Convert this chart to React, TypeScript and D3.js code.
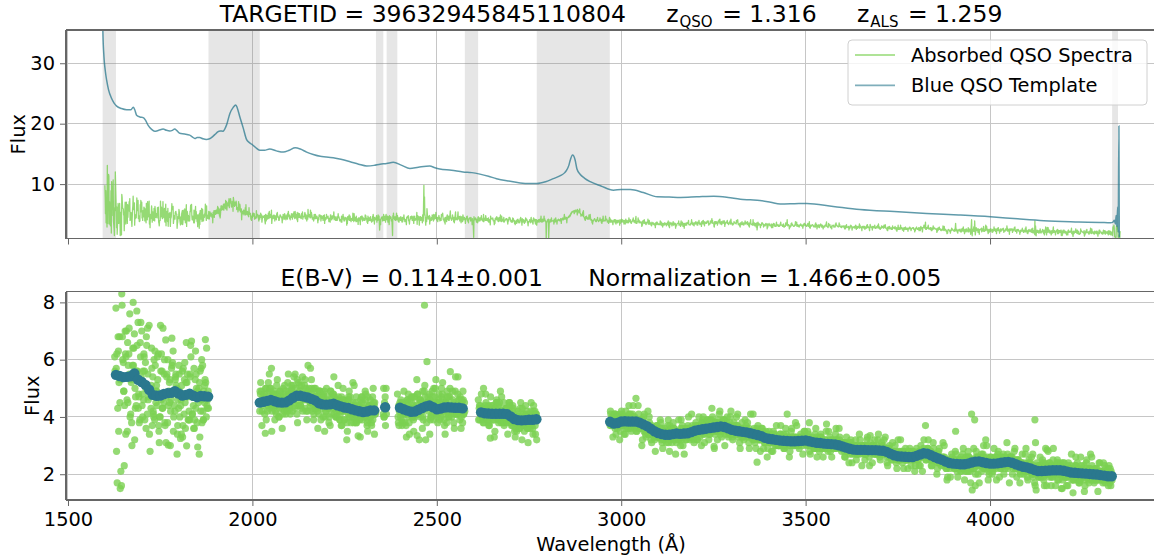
import React, { useEffect, useRef } from 'react';
import * as d3 from 'd3';

// ---------- data ----------

// observed spectrum: five interleaved samplings on a 5 Å grid
const obsStart = 1600;
const obsStep = 5;
const obsOffsets = [0, 5 / 3, 10 / 3, 5 / 6, 5 / 2];

const obsFlux0 = [
  9.8, 4.2, 11.6, 3.1, 7.4, 2.6, 7.8, 4.3, 6.8, 1.6, 5.9, 7.0, 4.6, 6.2, 4.1, 5.8, 6.9, 4.4, 7.3, 3.9, // 1600
  7.0, 4.6, 5.9, 4.1, 7.2, 4.3, 5.4, 3.9, 5.1, 6.2, 4.0, 5.6, 4.5, 6.69, 3.8, 5.2, 4.6, 6.3, 4.2, 5.0, // 1700
  4.3, 3.25, 5.6, 4.1, 5.2, 4.7, 3.9, 6.65, 4.4, 5.3, 3.8, 5.0, 4.2, 5.8, 4.5, 4.0, 4.9, 5.4, 4.6, 5.1, // 1800
  5.0, 5.8, 5.3, 6.4, 5.8, 6.6, 7.1, 6.4, 7.3, 6.6, 7.0, 6.5, 6.1, 5.7, 5.9, 5.1, 5.6, 5.0, 4.6, 5.1, // 1900
  4.5, 5.1, 4.6, 4.9, 4.2, 4.9, 4.5, 3.43, 4.8, 4.3, 5.0, 4.4, 4.7, 4.1, 4.6, 4.9, 4.3, 4.8, 4.5, 4.2, // 2000
  4.9, 4.5, 5.1, 4.3, 4.8, 5.2, 4.4, 4.9, 4.6, 5.0, 4.2, 4.7, 5.3, 4.5, 4.3, 4.7, 4.1, 4.6, 4.4, 4.9, // 2100
  4.2, 4.7, 4.4, 4.1, 4.8, 4.3, 4.0, 4.5, 4.2, 4.6, 3.9, 4.4, 4.1, 4.7, 4.3, 3.8, 4.5, 4.0, 4.4, 4.2, // 2200
  4.5, 4.0, 4.3, 3.9, 4.6, 4.1, 4.4, 4.2, 4.0, 2.4, 4.5, 4.1, 4.7, 4.3, 4.0, 4.6, 1.5, 4.2, 4.5, 4.0, // 2300
  4.5, 3.9, 4.4, 4.1, 4.6, 3.8, 4.3, 4.0, 4.7, 4.4, 4.1, 4.6, 4.2, 9.8, 3.2, 4.5, 4.8, 4.0, 4.4, 4.7, // 2400
  4.1, 4.6, 4.3, 4.8, 3.9, 4.5, 4.2, 4.7, 4.0, 4.4, 4.9, 4.1, 4.6, 4.3, 3.8, 4.5, 4.2, 4.0, 4.4, 4.1, // 2500
  1.2, 4.4, 4.0, 4.3, 4.1, 3.9, 4.3, 4.0, 4.4, 3.26, 4.2, 3.9, 4.3, 4.1, 4.5, 3.8, 4.2, 4.0, 4.3, 3.9, // 2600
  4.1, 3.7, 4.0, 3.8, 4.2, 3.6, 3.9, 4.1, 3.7, 4.0, 3.8, 4.2, 3.6, 3.9, 4.1, 3.8, 4.0, 3.7, 4.1, 3.9, // 2700
  4.0, 3.8, 4.1, 3.9, 3.7, 4.0, 4.2, 3.9, 4.3, 4.5, 4.2, 4.4, 4.8, 5.1, 5.4, 5.7, 5.5, 5.6, 5.1, 4.9, // 2800
  4.5, 4.3, 4.4, 4.2, 4.1, 3.9, 4.0, 4.2, 3.9, 4.1, 3.8, 4.0, 4.1, 3.9, 3.7, 4.0, 3.8, 4.1, 3.6, 3.9, // 2900
  3.9, 3.7, 4.0, 3.8, 3.6, 4.1, 3.9, 3.7, 4.65, 3.8, 3.9, 3.6, 3.8, 3.5, 3.7, 3.4, 3.6, 3.5, 3.3, 3.5, // 3000
  3.5, 3.3, 3.6, 3.2, 3.4, 3.5, 3.2, 3.6, 3.3, 3.4, 3.1, 3.5, 3.3, 3.6, 3.4, 3.2, 3.5, 3.3, 3.6, 3.4, // 3100
  3.6, 3.4, 3.7, 3.5, 3.8, 3.4, 3.6, 3.7, 3.5, 3.9, 3.6, 3.4, 3.7, 3.8, 3.5, 3.7, 3.9, 3.6, 3.5, 3.8, // 3200
  3.6, 3.4, 3.5, 3.7, 3.4, 3.6, 3.3, 3.5, 3.6, 3.3, 3.5, 3.4, 3.2, 3.5, 3.3, 3.4, 3.2, 3.4, 3.1, 3.3, // 3300
  3.3, 3.1, 3.3, 3.2, 3.0, 3.3, 3.1, 3.2, 3.4, 3.0, 4.1, 3.2, 3.0, 3.3, 3.1, 3.2, 3.0, 3.3, 3.2, 3.1, // 3400
  3.3, 3.1, 3.8, 3.0, 3.2, 3.1, 3.3, 2.9, 3.1, 3.2, 3.0, 3.1, 2.9, 3.2, 3.0, 3.1, 2.9, 3.2, 3.0, 2.9, // 3500
  3.0, 2.8, 3.1, 2.9, 2.7, 3.0, 2.8, 2.9, 2.7, 3.0, 2.8, 2.9, 3.0, 2.7, 2.9, 3.35, 2.8, 3.0, 2.7, 2.9, // 3600
  2.9, 2.7, 3.0, 2.8, 2.6, 2.9, 2.7, 2.5, 2.8, 2.6, 2.7, 2.5, 2.8, 2.6, 2.7, 2.5, 2.7, 2.6, 2.8, 2.5, // 3700
  2.7, 2.6, 2.8, 2.7, 2.9, 3.7, 2.7, 2.6, 2.8, 2.5, 2.7, 2.6, 2.4, 2.6, 2.5, 2.3, 2.5, 1.9, 2.4, 2.3, // 3800
  2.4, 2.2, 2.5, 2.3, 2.1, 2.4, 2.2, 2.6, 2.3, 2.4, 4.1, 2.2, 1.6, 2.5, 2.3, 2.6, 2.4, 2.2, 2.5, 1.8, // 3900
  2.5, 2.3, 2.4, 2.2, 2.5, 2.4, 2.2, 2.6, 2.3, 2.4, 2.5, 2.3, 2.6, 2.4, 2.2, 2.3, 2.1, 2.4, 2.2, 2.3, // 4000
  2.3, 2.1, 2.4, 2.0, 2.2, 1.45, 2.3, 2.0, 2.2, 1.9, 2.3, 2.85, 2.0, 2.2, 1.9, 2.3, 2.1, 2.4, 2.0, 2.2, // 4100
  2.0, 2.2, 1.9, 2.1, 2.3, 1.35, 2.1, 1.9, 2.2, 1.8, 2.1, 2.3, 1.9, 2.0, 2.2, 1.8, 2.1, 1.9, 2.2, 2.0, // 4200
  2.1, 1.8, 2.0, 1.9, 2.2, 1.7, 2.0, 2.6, 1.2, 3.0, 1.1, // 4300
];

const obsFlux1 = [
  5.1, 13.1, 3.4, 8.9, 4.8, 6.1, 2.8, 6.3, 1.5, 7.9, 4.9, 3.4, 6.6, 5.5, 5.2, 8.0, 5.0, 7.7, 4.8, 6.1, // 1600
  4.8, 6.1, 3.6, 5.5, 4.9, 6.4, 4.1, 5.8, 4.4, 3.5, 5.6, 4.3, 6.0, 4.7, 3.02, 5.3, 6.75, 4.0, 5.4, 3.4, // 1700
  5.5, 4.6, 3.7, 5.9, 2.99, 4.8, 5.4, 4.1, 5.7, 4.3, 2.95, 5.2, 4.6, 3.9, 5.3, 4.4, 5.5, 4.7, 5.0, 4.5, // 1800
  5.7, 5.1, 5.9, 5.7, 6.7, 6.0, 6.5, 7.6, 6.9, 7.2, 6.3, 6.8, 5.8, 6.4, 5.2, 5.7, 4.9, 5.5, 5.0, 4.5, // 1900
  5.2, 4.6, 4.4, 4.3, 4.8, 4.2, 4.7, 5.0, 4.4, 4.9, 5.7, 4.3, 4.8, 4.5, 4.0, 4.7, 4.6, 4.2, 4.9, 4.6, // 2000
  4.4, 5.0, 4.6, 4.8, 5.3, 4.5, 4.7, 4.2, 5.1, 4.6, 4.9, 4.4, 4.8, 4.1, 4.7, 4.2, 4.6, 4.8, 4.0, 4.5, // 2100
  4.6, 4.3, 4.9, 4.5, 4.1, 4.6, 4.4, 3.9, 4.7, 4.2, 4.5, 3.8, 4.6, 4.2, 4.0, 4.4, 4.7, 3.34, 4.1, 4.5, // 2200
  4.1, 4.6, 3.8, 4.4, 4.2, 3.9, 4.5, 4.8, 4.3, 4.1, 4.6, 4.0, 4.4, 4.2, 4.8, 3.9, 4.3, 4.6, 4.1, 4.4, // 2300
  4.0, 4.5, 4.2, 3.7, 4.4, 4.1, 4.7, 3.9, 4.3, 3.35, 4.6, 4.0, 4.9, 7.9, 4.5, 4.2, 4.6, 4.1, 5.0, 4.3, // 2400
  4.5, 4.2, 4.0, 4.6, 4.4, 3.8, 4.7, 5.58, 4.2, 4.5, 4.1, 4.8, 4.3, 4.0, 4.6, 4.2, 4.5, 4.3, 3.9, 4.3, // 2500
  4.3, 4.1, 4.5, 3.9, 4.2, 5.0, 4.0, 4.3, 3.8, 4.2, 4.4, 4.0, 4.1, 4.4, 3.9, 4.2, 4.5, 4.1, 3.8, 4.2, // 2600
  3.8, 4.2, 3.9, 3.5, 4.0, 3.9, 4.3, 3.7, 4.0, 3.6, 4.1, 3.9, 4.2, 3.7, 3.8, 4.0, 3.8, 4.2, 3.9, 1.0, // 2700
  3.9, 4.1, 3.8, 4.0, 4.2, 3.9, 4.0, 4.1, 4.4, 4.2, 4.5, 4.6, 5.0, 5.3, 5.6, 5.4, 5.8, 5.3, 5.0, 4.7, // 2800
  4.3, 4.5, 4.2, 4.4, 4.0, 4.1, 3.8, 4.0, 4.1, 3.9, 4.2, 3.9, 4.0, 3.8, 4.1, 3.7, 4.0, 3.8, 3.9, 4.1, // 2900
  3.7, 4.0, 3.8, 3.6, 4.1, 3.8, 3.9, 4.0, 3.7, 3.9, 3.6, 3.8, 3.5, 3.7, 3.6, 3.8, 3.4, 3.6, 3.5, 3.3, // 3000
  3.3, 3.6, 3.4, 3.2, 3.5, 3.3, 3.7, 3.4, 3.2, 3.5, 3.4, 3.2, 3.6, 3.3, 3.5, 3.4, 3.6, 3.2, 3.4, 3.6, // 3100
  3.4, 3.7, 3.5, 3.6, 3.4, 3.8, 3.5, 3.6, 3.9, 3.5, 2.97, 3.7, 3.5, 3.6, 3.8, 3.5, 3.7, 3.8, 3.6, 3.4, // 3200
  3.5, 3.7, 3.4, 3.6, 3.5, 3.3, 3.6, 3.4, 3.3, 3.6, 3.4, 3.2, 3.5, 3.3, 3.5, 3.2, 3.4, 3.3, 3.2, 3.4, // 3300
  3.2, 3.4, 3.1, 3.0, 3.3, 3.2, 3.4, 3.1, 3.0, 3.3, 3.1, 3.0, 3.3, 3.1, 3.3, 3.0, 3.2, 3.4, 3.1, 3.3, // 3400
  3.1, 3.3, 3.0, 3.2, 3.1, 2.9, 3.2, 3.0, 3.3, 3.1, 2.9, 3.75, 3.1, 3.0, 3.2, 2.9, 3.1, 3.0, 3.2, 3.0, // 3500
  2.9, 3.1, 2.8, 3.0, 2.9, 2.7, 3.0, 2.8, 3.0, 2.7, 2.9, 2.8, 2.7, 3.0, 2.8, 2.9, 3.0, 2.8, 2.9, 2.7, // 3600
  2.8, 3.0, 2.7, 2.9, 2.8, 2.6, 2.8, 2.7, 2.6, 2.8, 2.5, 2.7, 2.6, 2.8, 2.5, 2.7, 2.6, 2.5, 2.7, 2.6, // 3700
  2.6, 2.8, 2.7, 2.1, 2.8, 2.6, 2.9, 2.7, 2.5, 2.7, 2.6, 2.4, 2.6, 2.5, 2.4, 2.6, 2.3, 2.5, 2.4, 2.5, // 3800
  2.3, 3.5, 2.2, 2.4, 2.6, 2.2, 2.5, 2.3, 2.1, 2.5, 1.45, 2.4, 2.6, 2.3, 2.5, 2.7, 2.2, 2.4, 2.3, 2.5, // 3900
  2.2, 2.5, 2.3, 2.6, 2.3, 2.2, 2.5, 2.4, 2.6, 2.3, 2.4, 2.6, 2.3, 2.5, 2.4, 2.5, 2.3, 2.2, 2.4, 2.1, // 4000
  2.1, 2.4, 2.2, 1.9, 3.9, 2.2, 1.9, 2.3, 2.1, 2.4, 2.0, 2.2, 2.4, 1.9, 2.9, 2.1, 2.3, 2.0, 2.3, 1.9, // 4100
  2.2, 1.9, 2.3, 2.0, 1.8, 2.2, 2.0, 2.4, 1.9, 2.1, 2.0, 1.8, 2.2, 2.1, 1.9, 2.3, 1.8, 2.0, 2.1, 1.8, // 4200
  1.9, 2.1, 1.8, 2.1, 1.9, 2.0, 1.5, 2.8, 1.4, 2.4, 1.0, // 4300
];

const obsFlux2 = [
  3.6, 8.2, 5.5, 10.4, 3.9, 12.0, 1.7, 5.2, 2.1, 6.0, 4.4, 7.0, 5.8, 4.0, 3.0, 6.4, 4.7, 5.6, 3.8, 5.4, // 1600
  5.6, 3.9, 6.5, 4.7, 5.0, 3.7, 6.0, 4.5, 5.3, 4.0, 6.2, 4.8, 3.7, 5.5, 4.9, 4.2, 5.9, 4.4, 5.1, 4.6, // 1700
  4.0, 5.1, 4.8, 3.6, 5.5, 4.2, 6.1, 4.7, 3.9, 5.0, 4.5, 5.6, 3.8, 4.9, 5.2, 4.6, 4.3, 5.2, 5.3, 5.6, // 1800
  5.3, 5.6, 4.9, 6.1, 6.3, 5.9, 6.9, 6.7, 6.2, 7.8, 6.8, 5.9, 6.5, 5.9, 5.5, 5.3, 5.2, 4.8, 5.2, 4.7, // 1900
  4.7, 4.3, 5.0, 4.8, 4.5, 4.7, 4.1, 4.6, 5.2, 4.5, 4.2, 4.9, 4.4, 4.8, 4.3, 4.5, 5.0, 4.4, 4.3, 4.8, // 2000
  4.7, 4.2, 4.8, 5.0, 4.4, 4.9, 5.1, 4.6, 4.3, 4.8, 5.0, 4.5, 4.3, 4.9, 4.6, 4.4, 4.9, 4.3, 4.7, 4.2, // 2100
  4.4, 4.0, 4.5, 4.8, 4.3, 4.2, 4.7, 4.1, 4.3, 3.9, 4.4, 4.6, 4.0, 4.3, 4.5, 4.1, 3.9, 4.3, 4.6, 3.9, // 2200
  4.3, 4.2, 4.7, 4.0, 3.7, 4.5, 4.1, 4.4, 4.7, 4.2, 3.9, 4.5, 4.1, 4.6, 4.3, 4.1, 4.5, 4.0, 4.8, 4.2, // 2300
  4.3, 4.1, 3.8, 4.5, 4.0, 4.6, 4.0, 4.4, 4.1, 4.8, 4.3, 4.5, 3.9, 4.7, 5.93, 4.4, 4.0, 4.7, 4.3, 4.5, // 2400
  4.4, 3.9, 4.7, 4.2, 4.5, 4.9, 4.0, 4.3, 4.6, 4.1, 4.4, 4.2, 4.7, 4.5, 4.1, 4.3, 3.9, 4.4, 4.2, 4.0, // 2500
  4.1, 4.2, 3.9, 4.4, 4.0, 4.2, 4.5, 3.9, 4.1, 4.3, 3.9, 4.3, 4.5, 3.9, 4.2, 4.0, 3.8, 4.3, 4.1, 4.4, // 2600
  4.0, 3.9, 3.6, 4.1, 3.8, 4.0, 3.7, 3.9, 4.2, 3.8, 3.6, 4.0, 3.9, 4.1, 3.7, 4.1, 3.9, 3.8, 4.0, 3.7, // 2700
  1.1, 4.0, 3.9, 4.2, 3.8, 4.1, 3.9, 4.2, 4.1, 4.4, 4.3, 4.7, 5.2, 5.5, 5.3, 5.7, 5.5, 5.2, 4.8, 4.6, // 2800
  4.6, 4.2, 4.3, 4.0, 3.9, 4.2, 4.1, 3.8, 4.0, 4.2, 3.9, 4.1, 3.9, 4.5, 3.8, 3.9, 3.6, 4.0, 3.7, 3.8, // 2900
  4.1, 3.8, 3.6, 3.9, 3.8, 3.7, 4.0, 3.9, 3.8, 3.6, 3.7, 3.9, 3.7, 3.6, 3.4, 3.6, 3.7, 3.3, 3.6, 3.4, // 3000
  3.4, 3.2, 3.5, 3.6, 3.3, 3.1, 3.4, 3.5, 3.6, 3.2, 3.5, 3.4, 3.2, 3.5, 3.3, 3.6, 3.3, 3.5, 3.3, 3.5, // 3100
  3.5, 3.6, 3.3, 3.8, 3.6, 3.5, 3.9, 3.4, 3.7, 3.6, 3.8, 3.5, 3.9, 3.4, 3.7, 3.9, 3.6, 3.5, 3.7, 3.6, // 3200
  3.4, 3.6, 3.7, 3.4, 3.6, 3.5, 3.4, 3.7, 3.4, 3.5, 3.3, 3.5, 3.4, 2.42, 3.4, 3.3, 3.5, 3.1, 3.4, 3.2, // 3300
  3.1, 3.2, 3.4, 3.1, 3.2, 3.0, 3.2, 3.3, 3.1, 3.2, 3.3, 3.1, 3.2, 3.0, 3.2, 3.3, 3.1, 3.1, 3.3, 3.2, // 3400
  3.2, 3.0, 3.2, 3.3, 2.9, 3.2, 3.0, 3.2, 2.9, 3.0, 3.2, 3.0, 3.1, 2.9, 3.1, 3.0, 3.2, 2.9, 3.0, 3.1, // 3500
  3.1, 2.9, 2.9, 2.8, 3.1, 2.9, 2.7, 3.0, 2.8, 2.9, 3.0, 2.7, 2.9, 2.8, 2.3, 2.8, 2.9, 2.7, 3.0, 2.8, // 3600
  2.7, 2.8, 2.9, 2.7, 2.9, 2.7, 2.6, 2.8, 2.7, 2.5, 2.8, 2.6, 2.7, 2.5, 2.7, 2.6, 2.8, 2.7, 2.5, 2.7, // 3700
  2.5, 2.7, 2.6, 2.8, 2.7, 2.8, 2.6, 2.8, 2.7, 2.6, 2.5, 2.7, 2.5, 2.4, 2.6, 2.5, 1.8, 2.4, 2.3, 2.4, // 3800
  2.5, 2.3, 2.4, 2.2, 2.5, 2.3, 2.1, 2.4, 2.6, 2.2, 2.5, 3.9, 2.3, 2.6, 2.4, 2.3, 2.6, 3.2, 2.4, 2.2, // 3900
  2.4, 2.2, 2.6, 2.4, 2.3, 2.6, 2.4, 2.3, 2.5, 2.2, 2.6, 2.4, 2.5, 2.2, 2.5, 2.2, 2.4, 2.3, 2.1, 2.3, // 4000
  2.4, 2.2, 2.0, 2.3, 3.1, 2.0, 2.3, 1.9, 2.4, 2.1, 1.6, 2.3, 2.1, 2.3, 2.0, 2.2, 1.8, 2.3, 1.5, 2.4, // 4100
  1.9, 2.1, 2.0, 2.2, 2.0, 1.9, 2.3, 2.0, 1.8, 2.2, 1.9, 2.1, 2.0, 1.7, 2.1, 2.0, 2.2, 1.8, 1.9, 2.1, // 4200
  2.0, 1.9, 2.2, 1.8, 2.0, 2.1, 2.9, 1.3, 3.1, 1.6, 2.2, // 4300
];

const obsFlux3 = [
  8.0, 2.9, 11.3, 5.6, 9.2, 1.5, 5.7, 6.8, 4.5, 8.3, 4.9, 6.2, 3.5, 7.1, 5.3, 6.4, 3.2, 5.6, 4.3, 6.6, // 1600
  4.4, 6.2, 5.0, 7.1, 3.4, 5.1, 4.2, 6.3, 4.9, 3.7, 7.2, 4.3, 5.5, 3.1, 6.0, 4.5, 5.7, 3.5, 5.3, 2.7, // 1700
  5.8, 4.4, 3.3, 5.3, 6.6, 3.9, 5.5, 4.7, 3.6, 6.3, 4.9, 2.7, 5.7, 4.2, 5.1, 6.4, 4.3, 4.9, 4.5, 5.6, // 1800
  5.3, 6.3, 4.7, 6.4, 5.9, 6.8, 5.7, 7.2, 7.6, 6.3, 6.9, 7.2, 5.4, 6.7, 4.1, 5.7, 6.1, 5.2, 6.1, 4.2, // 1900
  5.1, 4.2, 5.6, 4.7, 4.9, 3.7, 4.6, 5.0, 4.2, 5.5, 4.4, 4.8, 3.9, 5.1, 4.5, 4.9, 3.6, 4.7, 4.1, 5.2, // 2000
  4.3, 5.1, 4.6, 5.5, 4.1, 4.8, 4.4, 5.4, 4.7, 4.2, 5.8, 4.5, 5.0, 3.9, 5.0, 4.3, 4.9, 3.9, 4.7, 3.5, // 2100
  5.0, 4.3, 3.7, 4.7, 5.4, 4.0, 4.6, 4.2, 3.7, 5.0, 4.3, 3.2, 4.7, 4.0, 4.4, 5.1, 3.8, 4.3, 3.9, 4.7, // 2200
  4.1, 4.9, 3.7, 4.4, 4.0, 4.7, 3.4, 4.5, 4.9, 3.9, 4.3, 5.0, 3.7, 4.7, 3.3, 4.5, 4.8, 4.1, 5.2, 3.8, // 2300
  4.4, 3.7, 4.9, 4.1, 4.6, 3.4, 4.3, 4.7, 4.0, 5.3, 4.1, 4.6, 3.6, 4.9, 4.3, 4.7, 3.4, 4.5, 3.9, 5.0, // 2400
  4.0, 4.8, 4.2, 5.2, 3.7, 4.5, 4.1, 5.0, 4.4, 3.8, 5.4, 4.1, 4.6, 3.6, 4.9, 4.2, 4.6, 3.6, 4.4, 3.3, // 2500
  4.6, 4.1, 3.6, 4.4, 4.8, 3.8, 4.4, 4.1, 3.7, 4.7, 4.2, 3.3, 4.5, 3.9, 4.3, 4.7, 3.8, 4.1, 3.9, 4.5, // 2600
  3.8, 4.4, 3.5, 4.0, 3.7, 4.3, 3.2, 4.1, 4.4, 3.6, 3.9, 4.5, 3.4, 4.2, 3.2, 4.1, 4.3, 3.8, 4.7, 3.6, // 2700
  4.1, 3.6, 4.4, 3.9, 4.2, 3.4, 4.0, 4.3, 4.1, 5.0, 4.2, 4.5, 4.6, 5.4, 5.5, 5.7, 4.9, 5.6, 4.7, 5.4, // 2800
  4.2, 4.7, 4.3, 5.0, 3.6, 4.1, 3.8, 4.5, 4.0, 3.7, 4.7, 3.9, 4.2, 3.5, 4.2, 3.7, 4.1, 3.4, 4.0, 3.2, // 2900
  4.2, 3.7, 3.4, 4.0, 4.4, 3.6, 4.1, 3.8, 3.5, 4.4, 3.8, 3.0, 4.0, 3.4, 3.7, 4.0, 3.2, 3.4, 3.2, 3.7, // 3000
  3.3, 3.9, 3.1, 3.5, 3.3, 3.7, 2.8, 3.6, 3.8, 3.2, 3.4, 3.9, 3.0, 3.7, 2.7, 3.6, 3.7, 3.3, 4.1, 3.2, // 3100
  3.7, 3.2, 4.0, 3.5, 3.9, 3.1, 3.7, 3.9, 3.4, 4.3, 3.5, 3.8, 3.2, 4.1, 3.6, 3.9, 3.0, 3.7, 3.3, 4.0, // 3200
  3.3, 3.8, 3.5, 4.1, 3.1, 3.6, 3.3, 3.9, 3.5, 3.1, 4.1, 3.3, 3.6, 2.9, 3.7, 3.2, 3.6, 2.9, 3.4, 2.6, // 3300
  3.5, 3.1, 2.8, 3.4, 3.7, 3.0, 3.4, 3.2, 2.9, 3.6, 3.3, 2.6, 3.5, 3.1, 3.3, 3.7, 3.0, 3.2, 3.0, 3.5, // 3400
  3.1, 3.5, 2.8, 3.2, 3.0, 3.4, 2.6, 3.3, 3.4, 2.9, 3.1, 3.5, 2.8, 3.3, 2.6, 3.2, 3.4, 3.0, 3.6, 2.9, // 3500
  3.0, 2.6, 3.3, 2.8, 3.1, 2.4, 2.9, 3.2, 2.7, 3.4, 2.8, 3.0, 2.5, 3.2, 2.9, 3.1, 2.4, 3.0, 2.7, 3.2, // 3600
  2.6, 3.1, 2.8, 3.3, 2.4, 2.9, 2.6, 3.1, 2.7, 2.4, 3.2, 2.5, 2.8, 2.2, 2.9, 2.5, 2.8, 2.3, 2.7, 2.1, // 3700
  2.9, 2.5, 2.3, 2.8, 3.2, 2.5, 2.9, 2.7, 2.3, 3.1, 2.7, 2.0, 2.8, 2.4, 2.6, 3.0, 2.2, 2.4, 2.2, 2.7, // 3800
  2.3, 2.8, 2.1, 2.5, 2.2, 2.7, 1.8, 2.6, 2.8, 2.1, 2.4, 2.9, 2.0, 2.6, 1.7, 2.5, 2.7, 2.3, 3.0, 2.1, // 3900
  2.6, 2.0, 2.9, 2.3, 2.7, 1.9, 2.5, 2.7, 2.2, 3.1, 2.3, 2.6, 2.0, 2.8, 2.3, 2.5, 1.7, 2.4, 2.0, 2.7, // 4000
  1.9, 2.5, 2.1, 2.7, 1.7, 2.2, 2.0, 2.6, 2.2, 1.8, 2.9, 2.0, 2.4, 1.6, 2.5, 2.1, 2.4, 1.8, 2.3, 1.5, // 4100
  2.4, 1.9, 1.6, 2.2, 2.7, 1.8, 2.3, 2.0, 1.7, 2.6, 2.1, 1.4, 2.4, 1.9, 2.2, 2.6, 1.8, 2.1, 1.8, 2.4, // 4200
  2.1, 1.7, 2.3, 1.9, 1.6, 2.2, 1.8, 3.2, 1.0, 2.5, 1.5, // 4300
];

const obsFlux4 = [
  8.9, 3.5, 7.1, 1.9, 10.7, 5.6, 6.2, 3.5, 5.3, 6.8, 2.3, 6.1, 4.5, 7.6, 3.8, 5.8, 4.3, 6.5, 4.7, 7.3, // 1600
  4.0, 5.6, 6.8, 4.6, 2.8, 5.7, 4.0, 4.9, 6.1, 3.1, 4.6, 7.1, 3.8, 5.4, 4.4, 3.0, 5.8, 4.8, 5.5, 3.7, // 1700
  4.9, 3.4, 5.7, 4.5, 5.2, 3.9, 6.5, 4.1, 3.6, 5.5, 4.7, 3.3, 6.0, 3.9, 6.7, 4.3, 4.2, 5.1, 3.6, 5.5, // 1800
  5.1, 6.1, 4.4, 6.4, 5.7, 7.3, 6.7, 6.1, 7.2, 5.5, 7.0, 5.8, 7.1, 5.4, 5.5, 4.9, 6.6, 5.2, 5.3, 4.0, // 1900
  5.2, 4.3, 4.9, 3.9, 5.2, 4.4, 4.8, 3.9, 4.5, 5.0, 3.5, 4.8, 4.2, 5.3, 4.0, 4.7, 4.1, 5.1, 4.3, 5.5, // 2000
  4.1, 4.9, 5.4, 4.4, 3.8, 5.1, 4.3, 4.7, 5.3, 3.9, 4.6, 5.7, 4.2, 5.0, 4.3, 3.6, 4.9, 4.5, 4.8, 4.0, // 2100
  4.5, 3.8, 4.9, 4.3, 4.7, 4.0, 5.1, 3.9, 3.7, 4.6, 4.2, 3.5, 4.9, 3.8, 5.2, 4.0, 3.8, 4.4, 3.3, 4.7, // 2200
  4.0, 4.8, 3.5, 4.4, 3.8, 5.0, 4.1, 3.7, 4.6, 3.3, 4.5, 4.0, 5.0, 3.7, 4.3, 3.9, 5.2, 4.1, 4.7, 3.7, // 2300
  4.6, 3.8, 4.3, 3.3, 4.8, 4.1, 4.5, 3.5, 4.3, 4.8, 3.2, 4.5, 4.0, 5.1, 3.8, 4.5, 3.9, 4.9, 4.1, 5.3, // 2400
  3.8, 4.5, 5.0, 4.1, 3.4, 4.7, 4.0, 4.4, 4.9, 3.6, 4.2, 5.4, 3.9, 4.6, 4.1, 3.5, 4.7, 4.2, 4.5, 3.7, // 2500
  4.3, 3.7, 4.6, 4.1, 4.3, 3.8, 4.8, 3.9, 3.7, 4.4, 4.1, 3.5, 4.6, 3.8, 4.9, 3.9, 3.7, 4.3, 3.4, 4.5, // 2600
  3.7, 4.3, 3.3, 4.0, 3.6, 4.5, 3.8, 3.5, 4.1, 3.1, 4.0, 3.7, 4.4, 3.4, 4.0, 3.7, 4.7, 3.8, 4.3, 3.5, // 2700
  4.2, 3.7, 4.0, 3.4, 4.4, 3.9, 4.1, 3.5, 4.3, 4.6, 3.6, 4.5, 4.8, 5.5, 5.1, 5.6, 5.2, 5.9, 4.9, 5.6, // 2800
  4.0, 4.5, 4.9, 4.2, 3.4, 4.3, 3.8, 4.0, 4.4, 3.5, 3.9, 4.7, 3.7, 4.2, 3.7, 3.3, 4.1, 3.8, 4.0, 3.5, // 2900
  3.9, 3.4, 4.2, 3.7, 4.0, 3.5, 4.4, 3.6, 3.5, 4.1, 3.7, 3.2, 4.1, 3.3, 4.2, 3.4, 3.1, 3.6, 2.8, 3.7, // 3000
  3.3, 3.8, 2.9, 3.5, 3.1, 3.9, 3.3, 3.1, 3.6, 2.7, 3.5, 3.2, 3.9, 3.0, 3.4, 3.2, 4.0, 3.3, 3.7, 3.1, // 3100
  3.8, 3.2, 3.6, 3.0, 4.0, 3.5, 3.8, 3.2, 3.6, 4.0, 2.9, 3.8, 3.5, 4.2, 3.3, 3.8, 3.4, 4.0, 3.4, 4.2, // 3200
  3.2, 3.6, 4.0, 3.3, 2.9, 3.8, 3.2, 3.5, 3.8, 2.9, 3.4, 4.1, 3.1, 3.6, 3.2, 2.8, 3.6, 3.3, 3.5, 2.9, // 3300
  3.3, 2.8, 3.5, 3.1, 3.3, 3.0, 3.7, 3.0, 2.9, 3.4, 3.2, 2.8, 3.6, 3.0, 3.8, 3.1, 2.9, 3.3, 2.7, 3.5, // 3400
  3.0, 3.4, 2.7, 3.2, 2.9, 3.6, 3.1, 2.8, 3.3, 2.6, 3.2, 3.0, 3.5, 2.8, 3.1, 2.9, 3.6, 3.0, 3.3, 2.8, // 3500
  3.1, 2.6, 2.9, 2.4, 3.2, 2.8, 3.0, 2.5, 2.9, 3.2, 2.3, 3.0, 2.7, 3.3, 2.6, 3.0, 2.7, 3.2, 2.8, 3.4, // 3600
  2.5, 2.9, 3.2, 2.7, 2.3, 3.0, 2.5, 2.7, 3.0, 2.2, 2.6, 3.2, 2.4, 2.8, 2.5, 2.2, 2.9, 2.6, 2.8, 2.3, // 3700
  2.7, 2.3, 3.0, 2.6, 2.8, 2.5, 3.2, 2.5, 2.3, 2.9, 2.6, 2.2, 2.9, 2.3, 3.1, 2.4, 2.2, 2.5, 1.9, 2.6, // 3800
  2.2, 2.7, 1.9, 2.5, 2.1, 2.9, 2.3, 2.1, 2.6, 1.7, 2.5, 2.2, 2.8, 2.0, 2.4, 2.1, 3.0, 2.3, 2.6, 2.0, // 3900
  2.6, 2.1, 2.5, 1.8, 2.8, 2.3, 2.6, 2.0, 2.4, 2.7, 1.7, 2.6, 2.2, 2.9, 1.9, 2.4, 2.0, 2.7, 2.2, 2.9, // 4000
  1.8, 2.3, 2.6, 2.0, 1.6, 2.4, 1.9, 2.2, 2.5, 1.6, 2.1, 2.8, 1.9, 2.3, 2.0, 1.6, 2.5, 2.2, 2.4, 1.8, // 4100
  2.1, 1.6, 2.4, 2.0, 2.2, 1.8, 2.6, 1.8, 1.7, 2.3, 2.0, 1.6, 2.5, 1.8, 2.7, 1.9, 1.7, 2.2, 1.4, 2.4, // 4200
  1.8, 2.4, 1.7, 2.1, 2.3, 1.6, 2.0, 1.4, 2.7, 1.2, 2.0, // 4300
];

// blue QSO template (top panel)
const templateWave = [
  1593, 1594.5, 1597.6, 1601, 1604.8, 1610, 1618, 1625, 1632, 1645, 1659, 1670, 1677, 1681, 1686, 1695,
  1704, 1710, 1717, 1726, 1735, 1746, 1758, 1767, 1776, 1783, 1789, 1796, 1803, 1816, 1830, 1837, 1844,
  1850, 1857, 1866, 1875, 1884, 1893, 1900, 1906, 1913, 1920, 1930, 1939, 1948, 1955, 1959, 1966, 1975,
  1984, 1991, 1998, 2008, 2020, 2033, 2047, 2065, 2084, 2100, 2116, 2130, 2147, 2165, 2184, 2200, 2219,
  2240, 2265, 2288, 2310, 2330, 2346, 2364, 2382, 2405, 2427, 2450, 2481, 2495, 2508, 2540, 2571, 2595,
  2617, 2640, 2662, 2695, 2726, 2750, 2771, 2795, 2816, 2835, 2847, 2852, 2858, 2862, 2868, 2875, 2880,
  2889, 2900, 2916, 2945, 2979, 3000, 3025, 3060, 3098, 3130, 3161, 3205, 3251, 3290, 3323, 3350, 3376,
  3405, 3431, 3470, 3503, 3575, 3647, 3740, 3828, 3915, 4001, 4075, 4146, 4240, 4300, 4327, 4333, 4337,
  4340, 4342, 4344, 4346, 4347.5, 4349.5, 4350.5,
];
const templateFlux = [
  42, 35.5, 31, 28.8, 27.2, 25.6, 24.2, 23.4, 22.9, 22.5, 22.3, 22.3, 22.7, 22.3, 21.4, 21.1,
  21.0, 20.6, 19.75, 19.1, 18.75, 18.9, 19.1, 18.9, 18.8, 18.9, 19.1, 18.8, 18.4, 18.3, 18.1, 17.8, 17.55,
  17.7, 17.7, 17.5, 17.4, 17.5, 17.9, 18.3, 18.65, 18.8, 18.75, 19.8, 21.7, 22.7, 23.1, 22.6, 21.1, 19.3,
  17.4, 16.9, 16.6, 16.1, 15.6, 15.6, 15.8, 15.5, 15.3, 15.6, 16.0, 15.8, 15.3, 14.9, 14.6, 14.5, 14.35,
  14.1, 13.7, 13.3, 13.0, 13.1, 13.3, 13.4, 13.6, 13.1, 12.6, 12.8, 13.0, 12.7, 12.5, 12.3, 12.0, 11.9,
  11.65, 11.3, 10.9, 10.5, 10.2, 10.1, 10.1, 10.4, 10.9, 11.4, 11.9, 12.3, 13.1, 14.0, 14.8, 14.0, 12.5,
  11.6, 11.0, 10.4, 9.7, 9.0, 9.1, 9.1, 8.6, 7.9, 7.85, 7.8, 7.9, 8.0, 7.8, 7.5, 7.4, 7.3,
  7.0, 6.7, 6.75, 6.8, 6.3, 5.8, 5.45, 5.15, 4.9, 4.6, 4.25, 3.95, 3.75, 3.65, 3.6, 3.7, 4.0,
  3.4, 4.8, 3.0, 6.2, 2.0, 19.6, 1.2,
];

// fitted model (bottom panel), 10 Å grid, null where masked
const modelStart = 1630;
const modelStep = 10;
const modelFlux: (number | null)[] = [
  5.47, 5.43, 5.39, 5.40, 5.42, 5.52, 5.30, 5.22, 5.12, 4.95, // 1630
  4.77, 4.74, 4.75, 4.80, 4.83, 4.84, 4.90, 4.82, 4.75, 4.77, // 1730
  4.81, 4.74, 4.69, 4.73, 4.72, 4.71, null, null, null, null, // 1830
  null, null, null, null, null, null, null, null, null, 4.50, // 1930
  4.53, 4.56, 4.59, 4.55, 4.51, 4.50, 4.51, 4.58, 4.67, 4.74, // 2030
  4.74, 4.71, 4.68, 4.63, 4.58, 4.48, 4.44, 4.43, 4.44, 4.46, // 2130
  4.41, 4.37, 4.33, 4.31, 4.27, 4.23, 4.20, 4.17, 4.19, 4.23, // 2230
  4.23, null, null, 4.34, null, null, null, 4.32, 4.27, 4.22, // 2330
  4.18, 4.19, 4.25, 4.31, 4.37, 4.40, 4.34, 4.27, 4.29, 4.33, // 2430
  4.34, 4.33, 4.32, 4.32, 4.30, null, null, null, null, 4.16, // 2530
  4.13, 4.12, 4.11, 4.11, 4.11, 4.11, 4.10, 4.02, 3.93, 3.89, // 2630
  3.88, 3.89, 3.90, 3.90, 3.92, null, null, null, null, null, // 2730
  null, null, null, null, null, null, null, null, null, null, // 2830
  null, null, null, null, 3.83, 3.77, 3.79, 3.84, 3.85, 3.84, // 2930
  3.84, 3.84, 3.80, 3.74, 3.68, 3.59, 3.50, 3.44, 3.40, 3.38, // 3030
  3.38, 3.40, 3.42, 3.41, 3.42, 3.43, 3.47, 3.52, 3.55, 3.57, // 3130
  3.59, 3.61, 3.63, 3.65, 3.67, 3.65, 3.60, 3.55, 3.52, 3.50, // 3230
  3.48, 3.46, 3.43, 3.40, 3.37, 3.33, 3.27, 3.24, 3.22, 3.20, // 3330
  3.18, 3.17, 3.16, 3.15, 3.15, 3.16, 3.17, 3.18, 3.15, 3.12, // 3430
  3.10, 3.09, 3.07, 3.06, 3.05, 3.04, 3.01, 2.97, 2.93, 2.89, // 3530
  2.86, 2.85, 2.85, 2.85, 2.84, 2.84, 2.84, 2.83, 2.82, 2.78, // 3630
  2.72, 2.66, 2.63, 2.62, 2.61, 2.60, 2.60, 2.64, 2.69, 2.73, // 3730
  2.72, 2.66, 2.60, 2.55, 2.50, 2.44, 2.39, 2.37, 2.36, 2.35, // 3830
  2.35, 2.37, 2.41, 2.44, 2.45, 2.42, 2.39, 2.37, 2.37, 2.38, // 3930
  2.40, 2.42, 2.43, 2.40, 2.35, 2.30, 2.26, 2.24, 2.20, 2.15, // 4030
  2.11, 2.11, 2.12, 2.13, 2.14, 2.14, 2.14, 2.12, 2.09, 2.06, // 4130
  2.05, 2.04, 2.03, 2.02, 2.01, 2.00, 1.99, 1.97, 1.95, 1.93, // 4230
  1.93, // 4330
];

const maskRanges = [
  [1594, 1630], [1881, 2020], [2335, 2355], [2364, 2393], [2576, 2612], [2771, 2969], [4331, 4347],
];
const fitRanges = [
  [1626, 1881], [2020, 2335], [2355, 2364], [2393, 2576], [2612, 2771], [2969, 4331],
];

const xTicks = [1500, 2000, 2500, 3000, 3500, 4000];
const topYTicks = [10, 20, 30];
const bottomYTicks = [2, 4, 6, 8];
const legendLabels = ['Absorbed QSO Spectra', 'Blue QSO Template'];

// ---------- styling ----------
const W = 1154;
const H = 557;
const FONT = "'DejaVu Sans', 'Liberation Sans', sans-serif";
const GREEN = '#7ad151';
const BLUE = '#2a788e';
const GRID = '#c6c6c6';
const SPINE = '#666666';
const TICK_FS = 19.4;
const TITLE_FS = 23.5;

type Part = { t: string; sub?: boolean; dx?: number };

const App: React.FC = () => {
  const svgRef = useRef<SVGSVGElement>(null);

  useEffect(() => {
    document.body.style.margin = '0';
    if (!svgRef.current) return;
    const svg = d3.select(svgRef.current);
    svg.selectAll('*').remove();

    const left = 66;
    const right = 1156;
    const top1 = 30, bot1 = 238.5;
    const top2 = 291.5, bot2 = 500;

    const x = d3.scaleLinear().domain([1494.6, 4450]).range([left, right]);
    const y1 = d3.scaleLinear().domain([1.0, 35.5]).range([bot1, top1]);
    const y2 = d3.scaleLinear().domain([1.1, 8.38]).range([bot2, top2]);

    const obs = [obsFlux0, obsFlux1, obsFlux2, obsFlux3, obsFlux4]
      .flatMap((arr, k) => arr.map((f, i) => ({ w: obsStart + i * obsStep + obsOffsets[k], f })))
      .sort((a, b) => a.w - b.w);
    const inFit = (w: number) => fitRanges.some(([a, b]) => w >= a && w <= b);
    const model = modelFlux
      .map((f, i) => ({ w: modelStart + i * modelStep, f }))
      .filter((d) => d.f !== null && inFit(d.w)) as { w: number; f: number }[];
    const template = templateWave.map((w, i) => ({ w, f: templateFlux[i] }));

    svg.append('rect').attr('width', W).attr('height', H).attr('fill', '#fff');

    const defs = svg.append('defs');
    const addClip = (id: string, top: number, bottom: number) =>
      defs.append('clipPath').attr('id', id).append('rect')
        .attr('x', left).attr('y', top).attr('width', right - left).attr('height', bottom - top);
    addClip('clip-top', top1, bot1);
    addClip('clip-bot', top2, bot2);

    const grid = (yScale: d3.ScaleLinear<number, number>, yTicks: number[], top: number, bottom: number) => {
      const g = svg.append('g').attr('shape-rendering', 'crispEdges');
      g.selectAll('line.vx').data(xTicks).join('line').attr('class', 'vx')
        .attr('x1', (d) => x(d)).attr('x2', (d) => x(d)).attr('y1', top).attr('y2', bottom)
        .attr('stroke', GRID).attr('stroke-width', 1);
      g.selectAll('line.hy').data(yTicks).join('line').attr('class', 'hy')
        .attr('x1', left).attr('x2', right).attr('y1', (d) => yScale(d)).attr('y2', (d) => yScale(d))
        .attr('stroke', GRID).attr('stroke-width', 1);
    };

    const axes = (yScale: d3.ScaleLinear<number, number>, yTicks: number[], top: number, bottom: number, xLabels: boolean) => {
      const g = svg.append('g');
      const ya = g.append('g').attr('transform', `translate(${left},0)`)
        .call(d3.axisLeft(yScale).tickValues(yTicks).tickSize(6).tickPadding(5).tickFormat(d3.format('d')));
      ya.select('.domain').remove();
      ya.attr('font-size', TICK_FS).attr('font-family', FONT);
      ya.selectAll('.tick line').attr('stroke', SPINE);

      const xa = g.append('g').attr('transform', `translate(0,${bottom})`)
        .call(d3.axisBottom(x).tickValues(xTicks).tickSize(6).tickPadding(6)
          .tickFormat(xLabels ? d3.format('d') : () => ''));
      xa.select('.domain').remove();
      xa.attr('font-size', TICK_FS).attr('font-family', FONT);
      xa.selectAll('.tick line').attr('stroke', SPINE);

      const sp = g.append('g').attr('stroke', SPINE).attr('stroke-width', 1.1).attr('shape-rendering', 'crispEdges');
      sp.append('line').attr('x1', left).attr('x2', right).attr('y1', top).attr('y2', top);
      sp.append('line').attr('x1', left).attr('x2', right).attr('y1', bottom).attr('y2', bottom);
      sp.append('line').attr('x1', left).attr('x2', left).attr('y1', top).attr('y2', bottom);
      sp.append('line').attr('x1', right).attr('x2', right).attr('y1', top).attr('y2', bottom);
    };

    const title = (yBase: number, parts: Part[]) => {
      const t = svg.append('text').attr('x', 611).attr('y', yBase).attr('text-anchor', 'middle')
        .attr('font-family', FONT).attr('font-size', TITLE_FS).attr('fill', '#000')
        .attr('xml:space', 'preserve').style('white-space', 'pre');
      let shifted = false;
      parts.forEach((p) => {
        const s = t.append('tspan').text(p.t);
        if (p.dx) s.attr('dx', p.dx);
        if (p.sub) {
          s.attr('font-size', 15).attr('dy', 5);
          shifted = true;
        } else if (shifted) {
          s.attr('dy', -5);
          shifted = false;
        }
      });
    };

    const yLabel = (xPos: number, top: number, bottom: number) =>
      svg.append('text')
        .attr('transform', `translate(${xPos},${(top + bottom) / 2}) rotate(-90)`)
        .attr('text-anchor', 'middle').attr('font-family', FONT).attr('font-size', TICK_FS)
        .attr('fill', '#000').text('Flux');

    // ---------- top panel ----------
    grid(y1, topYTicks, top1, bot1);
    const pTop = svg.append('g').attr('clip-path', 'url(#clip-top)');
    pTop.selectAll('rect.mask').data(maskRanges).join('rect').attr('class', 'mask')
      .attr('x', (d) => x(d[0])).attr('width', (d) => x(d[1]) - x(d[0]))
      .attr('y', top1).attr('height', bot1 - top1)
      .attr('fill', '#808080').attr('fill-opacity', 0.2);

    const lineTop = d3.line<{ w: number; f: number }>().x((d) => x(d.w)).y((d) => y1(d.f));
    pTop.append('path').datum(obs).attr('d', lineTop)
      .attr('fill', 'none').attr('stroke', GREEN).attr('stroke-opacity', 0.8)
      .attr('stroke-width', 1.3).attr('stroke-linejoin', 'round');
    pTop.append('path').datum(template).attr('d', lineTop.curve(d3.curveMonotoneX))
      .attr('fill', 'none').attr('stroke', BLUE).attr('stroke-opacity', 0.75)
      .attr('stroke-width', 1.5);
    axes(y1, topYTicks, top1, bot1, false);
    yLabel(25, top1, bot1);

    // legend
    const lg = svg.append('g');
    lg.append('rect').attr('x', 848).attr('y', 40).attr('width', 299).attr('height', 65).attr('rx', 4)
      .attr('fill', '#fff').attr('fill-opacity', 0.8).attr('stroke', '#d0d0d0');
    const lgColors = [GREEN, BLUE];
    legendLabels.forEach((label, i) => {
      const yy = 55 + i * 30.3;
      lg.append('line').attr('x1', 855).attr('x2', 895).attr('y1', yy).attr('y2', yy)
        .attr('stroke', lgColors[i]).attr('stroke-opacity', 0.6).attr('stroke-width', 1.8);
      lg.append('text').attr('x', 911).attr('y', yy + 7).attr('font-family', FONT)
        .attr('font-size', TICK_FS).attr('fill', '#000').text(label);
    });

    title(22, [
      { t: 'TARGETID = 39632945845110804     ' },
      { t: 'z', dx: 3 },
      { t: 'QSO', sub: true, dx: 1 },
      { t: ' = 1.316     ', dx: 2 },
      { t: 'z', dx: 3 },
      { t: 'ALS', sub: true, dx: 1 },
      { t: ' = 1.259', dx: 2 },
    ]);

    // ---------- bottom panel ----------
    grid(y2, bottomYTicks, top2, bot2);
    const pBot = svg.append('g').attr('clip-path', 'url(#clip-bot)');
    pBot.append('g').selectAll('circle').data(obs.filter((d) => inFit(d.w))).join('circle')
      .attr('cx', (d) => x(d.w)).attr('cy', (d) => y2(d.f)).attr('r', 3.6)
      .attr('fill', GREEN).attr('fill-opacity', 0.8);
    pBot.append('g').selectAll('circle').data(model).join('circle')
      .attr('cx', (d) => x(d.w)).attr('cy', (d) => y2(d.f)).attr('r', 5.2)
      .attr('fill', BLUE);
    axes(y2, bottomYTicks, top2, bot2, true);
    yLabel(38.5, top2, bot2);

    title(286, [
      { t: 'E(B-V) = 0.114' },
      { t: '±', dx: 0.5 },
      { t: '0.001     ', dx: 0.5 },
      { t: 'Normalization = 1.466', dx: 8 },
      { t: '±', dx: 0.5 },
      { t: '0.005', dx: 0.5 },
    ]);

    svg.append('text').attr('x', 611).attr('y', 551).attr('text-anchor', 'middle')
      .attr('font-family', FONT).attr('font-size', TICK_FS).attr('fill', '#000')
      .text('Wavelength (Å)');
  }, []);

  return <svg ref={svgRef} width={W} height={H} style={{ display: 'block' }} />;
};

export default App;
